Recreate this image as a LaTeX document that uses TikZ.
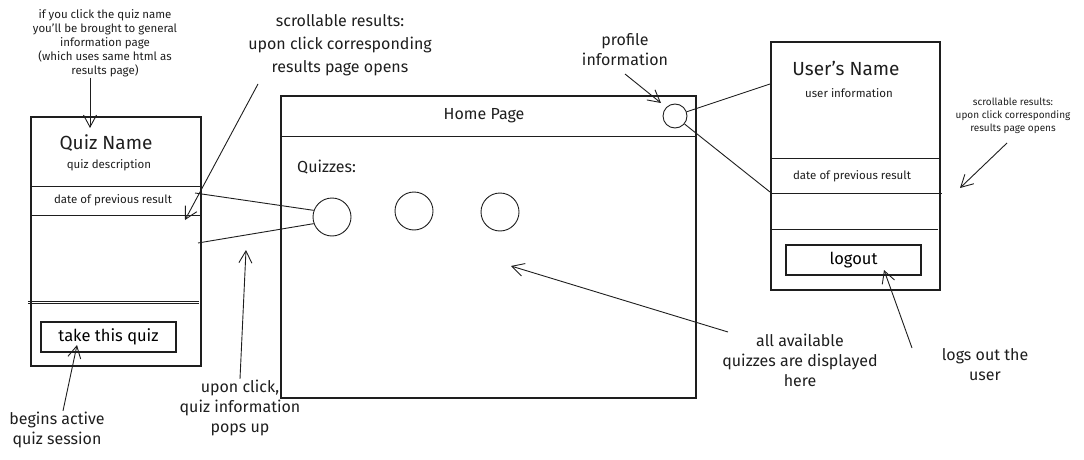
\documentclass[tikz,border=0pt]{standalone}
\usepackage{fontspec}
\setmainfont{Fira Sans}
\usepackage{xcolor}
\definecolor{sketchink}{HTML}{1E1E1E}
\usepackage{tikz}
\usetikzlibrary{arrows.meta,positioning}

\begin{document}
\begin{tikzpicture}[x=1pt, y=-1pt,
  frame/.style={draw=sketchink, line width=1.1pt, rectangle, inner sep=0pt},
  btn/.style={frame, minimum width=135pt, minimum height=30pt,
              font=\fontsize{16.5}{18}\selectfont},
  dot/.style={draw=sketchink, line width=0.9pt, circle, inner sep=0pt,
              minimum size=38pt},
  note/.style={align=center, text=sketchink, inner sep=1pt,
               font=\fontsize{16}{20}\selectfont},
  small/.style={align=center, text=sketchink, inner sep=1pt,
                font=\fontsize{11.5}{14}\selectfont},
  title/.style={text=sketchink, font=\fontsize{19}{22}\selectfont},
  arr/.style={-{Straight Barb[length=12pt, width=13pt]}, draw=sketchink,
              line width=0.9pt},
  link/.style={draw=sketchink, line width=0.9pt}
]
  \useasboundingbox (0,0) rectangle (1084,460);

  % quiz card (left)
  \node[frame, minimum width=170pt, minimum height=249pt] (quizcard) at (116,241.5) {};
  \node[title] (quizname) at (106,143) {Quiz Name};
  \node[small] (quizdesc) at (109,165) {quiz description};
  \draw[link] (quizcard.west |- 0,186) -- (quizcard.east |- 0,186);
  \node[small] (quizdate) at (113,200) {date of previous result};
  \draw[link] (quizcard.west |- 0,215) -- (quizcard.east |- 0,215);
  \draw[link] (28,301) -- (199,301);
  \draw[link] (28,303) -- (199,303);
  \node[btn] (takequiz) at (108.5,337) {take this quiz};

  % home page
  \node[frame, minimum width=415pt, minimum height=302pt] (home) at (488.5,247) {};
  \draw[link] (home.west |- 0,136) -- (home.east |- 0,136);
  \node[note] (hometitle) at (484,116) {Home Page};
  \node[dot, minimum size=24pt] (profile) at (675,116) {};
  \node[note, anchor=west] (quizzes) at (296,167) {Quizzes:};
  \node[dot] (quiza) at (332,217) {};
  \node[dot] (quizb) at (414,211) {};
  \node[dot] (quizc) at (500,212) {};

  % user card (right)
  \node[frame, minimum width=169pt, minimum height=248pt] (usercard) at (855.5,166) {};
  \node[title] (username) at (846,68) {User's Name};
  \node[small] (userinfo) at (849,93) {user information};
  \draw[link] (usercard.west |- 0,158) -- (usercard.east |- 0,158);
  \node[small] (userdate) at (852,176) {date of previous result};
  \draw[link] (usercard.west |- 0,193) -- (942,193);
  \draw[link] (770,229) -- (938,229);
  \node[btn] (logout) at (853.5,260) {logout};

  % notes
  \node[small] (infonote) at (105,43) {if you click the quiz name\\you'll be brought to general\\information page\\(which uses same html as\\results page)};
  \node[note, font=\fontsize{16}{23}\selectfont] (scrollnote) at (340,45) {scrollable results:\\upon click corresponding\\results page opens};
  \node[note] (profilenote) at (625,50) {profile\\information};
  \node[small, font=\fontsize{10}{13}\selectfont] (usernote) at (1013,116) {scrollable results:\\upon click corresponding\\results page opens};
  \node[note] (popnote) at (240,408) {upon click,\\quiz information\\pops up};
  \node[note] (beginnote) at (57,430) {begins active\\quiz session};
  \node[note] (allnote) at (800,360) {all available\\quizzes are displayed\\here};
  \node[note] (logoutnote) at (985,365) {logs out the\\user};

  % arrow ends
  \coordinate (scrollstart) at (258,84);
  \coordinate (scrollend) at (185,220);
  \coordinate (popend) at (246,250);
  \coordinate (beginend) at (77,345);
  \coordinate (allstart) at (728,332);
  \coordinate (allend) at (511,266);
  \coordinate (logoutstart) at (912,348);
  \coordinate (logoutend) at (884,270);
  \coordinate (userstart) at (1007,143);
  \coordinate (userend) at (960,188);
  \coordinate (profilestart) at (625,74);
  \coordinate (profileend) at (661,103);

  \draw[arr] (infonote.south -| 90,0) -- (90,128);
  \draw[arr] (scrollstart) -- (scrollend);
  \draw[arr] (popnote.north -| 240,0) -- (popend);
  \draw[arr] ([xshift=6pt]beginnote.north) -- (beginend);
  \draw[arr] (allstart) -- (allend);
  \draw[arr] (logoutstart) -- (logoutend);
  \draw[arr] (userstart) -- (userend);
  \draw[arr] (profilestart) -- (profileend);

  % links
  \draw[link] (195,193) -- (quiza.160);
  \draw[link] (198,243) -- (quiza.200);
  \draw[link] (profile.20) -- (770,84);
  \draw[link] (profile.-40) -- (770,192);
\end{tikzpicture}
\end{document}
